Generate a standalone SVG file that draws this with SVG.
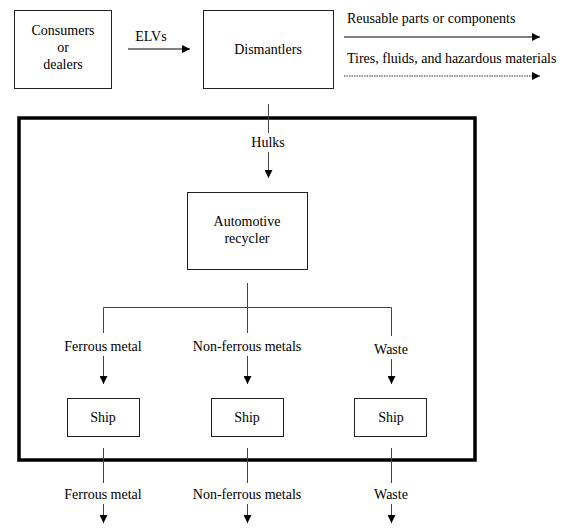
<svg xmlns="http://www.w3.org/2000/svg" width="567" height="528" viewBox="0 0 567 528">
<defs>
<marker id="ah" viewBox="0 0 10 10" refX="10" refY="5" markerWidth="10" markerHeight="8" markerUnits="userSpaceOnUse" orient="auto"><path d="M0,0 L10,5 L0,10 Z" fill="#000"/></marker>
<style>
text{font-family:"Liberation Serif","Times New Roman",serif;font-size:14px;fill:#000;text-anchor:middle}
.box{fill:#fff;stroke:#222;stroke-width:1}
.ln{fill:none;stroke:#444;stroke-width:1}
.ar{fill:none;stroke:#444;stroke-width:1;marker-end:url(#ah)}
.sol{fill:none;stroke:#000;stroke-width:1.2;marker-end:url(#ah)}
.dot{fill:none;stroke:#333;stroke-width:1.2;stroke-dasharray:1.5 1;marker-end:url(#ah)}
</style>
</defs>
<rect width="567" height="528" fill="#fff"/>
<g id="frame"><rect x="19" y="118" width="456" height="342" fill="none" stroke="#000" stroke-width="3.5"/></g>
<g id="consumers"><rect class="box" x="14.5" y="10.5" width="97" height="78"/><text x="63" y="35">Consumers</text><text x="63" y="52">or</text><text x="63" y="69">dealers</text></g>
<g id="dismantlers"><rect class="box" x="203.5" y="10.5" width="130" height="78"/><text x="268" y="54">Dismantlers</text></g>
<g id="recycler"><rect class="box" x="187.5" y="192.5" width="120" height="77"/><text x="247" y="226">Automotive</text><text x="247" y="243">recycler</text></g>
<g id="ship1"><rect class="box" x="67.5" y="398.5" width="72" height="38"/><text x="103" y="422">Ship</text></g>
<g id="ship2"><rect class="box" x="211.5" y="398.5" width="72" height="38"/><text x="247" y="422">Ship</text></g>
<g id="ship3"><rect class="box" x="354.5" y="398.5" width="72" height="38"/><text x="391" y="422">Ship</text></g>
<g id="connectors">
<line class="sol" x1="128" y1="49" x2="190" y2="49"/>
<text x="151" y="41">ELVs</text>
<line class="sol" x1="344" y1="37" x2="540" y2="37"/>
<text x="347" y="23" style="text-anchor:start">Reusable parts or components</text>
<line class="dot" x1="344" y1="76" x2="540" y2="76"/>
<text x="347" y="63" style="text-anchor:start">Tires, fluids, and hazardous materials</text>
<line class="ln" x1="268.5" y1="104" x2="268.5" y2="133"/>
<text x="268" y="147">Hulks</text>
<line class="ar" x1="268.5" y1="152" x2="268.5" y2="178"/>
<line class="ln" x1="247.5" y1="283" x2="247.5" y2="307"/>
<polyline class="ln" points="103.5,333 103.5,307.5 391.5,307.5 391.5,336"/>
<line class="ln" x1="247.5" y1="307" x2="247.5" y2="333"/>
<text x="103" y="351">Ferrous metal</text>
<text x="247" y="351">Non-ferrous metals</text>
<text x="391" y="354">Waste</text>
<line class="ar" x1="103.5" y1="356" x2="103.5" y2="384"/>
<line class="ar" x1="247.5" y1="356" x2="247.5" y2="384"/>
<line class="ar" x1="391.5" y1="359" x2="391.5" y2="384"/>
<line class="ln" x1="103.5" y1="448" x2="103.5" y2="483"/>
<line class="ln" x1="247.5" y1="448" x2="247.5" y2="483"/>
<line class="ln" x1="391.5" y1="448" x2="391.5" y2="483"/>
<text x="103" y="499">Ferrous metal</text>
<text x="247" y="499">Non-ferrous metals</text>
<text x="391" y="499">Waste</text>
<line class="ar" x1="103.5" y1="504" x2="103.5" y2="523"/>
<line class="ar" x1="247.5" y1="504" x2="247.5" y2="523"/>
<line class="ar" x1="391.5" y1="504" x2="391.5" y2="523"/>
</g>
</svg>
